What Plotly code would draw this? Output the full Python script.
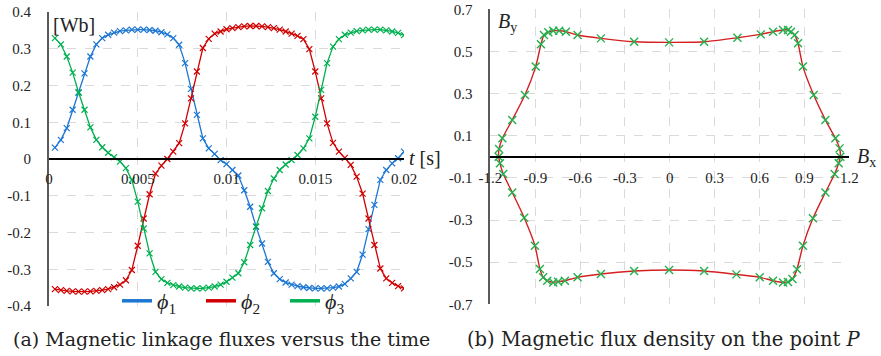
import plotly.graph_objects as go

# ---------------- data: (a) linkage fluxes ----------------
t = [0.000333, 0.000667, 0.001, 0.001333, 0.001667, 0.002, 0.002333, 0.002667, 0.003, 0.003333,
     0.003667, 0.004, 0.004333, 0.004667, 0.005, 0.005333, 0.005667, 0.006, 0.006333, 0.006667,
     0.007, 0.007333, 0.007667, 0.008, 0.008333, 0.008667, 0.009, 0.009333, 0.009667, 0.01,
     0.010333, 0.010667, 0.011, 0.011333, 0.011667, 0.012, 0.012333, 0.012667, 0.013, 0.013333,
     0.013667, 0.014, 0.014333, 0.014667, 0.015, 0.015333, 0.015667, 0.016, 0.016333, 0.016667,
     0.017, 0.017333, 0.017667, 0.018, 0.018333, 0.018667, 0.019, 0.019333, 0.019667, 0.02]

phi1 = [0.031, 0.052, 0.084, 0.134, 0.181, 0.233, 0.279, 0.312, 0.329, 0.338,
        0.344, 0.348, 0.350, 0.352, 0.352, 0.352, 0.351, 0.349, 0.345, 0.339,
        0.329, 0.311, 0.261, 0.191, 0.120, 0.056, 0.029, 0.014, -0.003, -0.014,
        -0.030, -0.045, -0.085, -0.130, -0.184, -0.230, -0.280, -0.311, -0.327, -0.336,
        -0.342, -0.346, -0.349, -0.351, -0.352, -0.352, -0.352, -0.350, -0.347, -0.340,
        -0.325, -0.307, -0.260, -0.191, -0.125, -0.057, -0.030, -0.012, 0.002, 0.020]

phi2 = [-0.354, -0.357, -0.359, -0.360, -0.361, -0.361, -0.360, -0.359, -0.357, -0.354,
        -0.349, -0.342, -0.330, -0.302, -0.236, -0.162, -0.096, -0.040, -0.018, 0.000,
        0.020, 0.043, 0.097, 0.165, 0.238, 0.302, 0.327, 0.341, 0.347, 0.353,
        0.356, 0.359, 0.361, 0.362, 0.362, 0.361, 0.359, 0.356, 0.352, 0.347,
        0.341, 0.335, 0.326, 0.299, 0.238, 0.165, 0.097, 0.044, 0.020, 0.003,
        -0.016, -0.048, -0.094, -0.162, -0.234, -0.298, -0.325, -0.337, -0.346, -0.352]

phi3 = [0.329, 0.312, 0.279, 0.235, 0.181, 0.134, 0.086, 0.052, 0.032, 0.017,
        0.005, -0.007, -0.025, -0.057, -0.116, -0.189, -0.257, -0.307, -0.327, -0.337,
        -0.343, -0.347, -0.350, -0.352, -0.352, -0.352, -0.350, -0.347, -0.342, -0.334,
        -0.323, -0.311, -0.281, -0.234, -0.184, -0.134, -0.087, -0.053, -0.030, -0.015,
        -0.003, 0.011, 0.029, 0.056, 0.115, 0.188, 0.261, 0.306, 0.326, 0.338,
        0.344, 0.348, 0.350, 0.352, 0.352, 0.352, 0.350, 0.347, 0.343, 0.337]

series_names = ["<i>ϕ</i><sub>1</sub>", "<i>ϕ</i><sub>2</sub>", "<i>ϕ</i><sub>3</sub>"]

# ---------------- data: (b) flux density locus ----------------
Bx = [1.140, 1.135, 1.107, 1.040, 0.962, 0.890, 0.857, 0.835, 0.810, 0.790,
      0.757, 0.690, 0.608, 0.452, 0.229, -0.005, -0.239, -0.461, -0.617, -0.695,
      -0.740, -0.780, -0.813, -0.842, -0.862, -0.897, -0.969, -1.054, -1.120, -1.142,
      -1.145, -1.136, -1.114, -1.054, -0.974, -0.902, -0.869, -0.847, -0.820, -0.780,
      -0.747, -0.702, -0.617, -0.461, -0.239, -0.005, 0.229, 0.445, 0.601, 0.690,
      0.757, 0.790, 0.820, 0.850, 0.890, 0.957, 1.040, 1.102, 1.129]
By = [0.000, 0.040, 0.088, 0.175, 0.293, 0.428, 0.539, 0.578, 0.594, 0.602,
      0.602, 0.594, 0.581, 0.565, 0.546, 0.543, 0.546, 0.562, 0.578, 0.594,
      0.598, 0.598, 0.591, 0.578, 0.534, 0.428, 0.293, 0.175, 0.088, 0.037,
      0.000, -0.031, -0.082, -0.169, -0.289, -0.422, -0.532, -0.572, -0.588, -0.596,
      -0.593, -0.588, -0.572, -0.556, -0.542, -0.537, -0.542, -0.558, -0.572, -0.588,
      -0.596, -0.594, -0.580, -0.534, -0.422, -0.292, -0.169, -0.082, -0.031]

# ---------------- tick labels ----------------
a_xticks = [0, 0.005, 0.01, 0.015, 0.02]
a_xtext = ["0", "0.005", "0.01", "0.015", "0.02"]
a_yticks = [0.4, 0.3, 0.2, 0.1, 0, -0.1, -0.2, -0.3, -0.4]
a_ytext = ["0.4", "0.3", "0.2", "0.1", "0", "-0.1", "-0.2", "-0.3", "-0.4"]
b_xticks = [-1.2, -0.9, -0.6, -0.3, 0, 0.3, 0.6, 0.9, 1.2]
b_xtext = ["-1.2", "-0.9", "-0.6", "-0.3", "0", "0.3", "0.6", "0.9", "1.2"]
b_yticks = [0.7, 0.5, 0.3, 0.1, -0.1, -0.3, -0.5, -0.7]
b_ytext = ["0.7", "0.5", "0.3", "0.1", "-0.1", "-0.3", "-0.5", "-0.7"]

captions = ["(a) Magnetic linkage fluxes versus the time",
            "(b) Magnetic flux density on the point <i>P</i>"]

# ---------------- styling ----------------
W, H = 881, 356
SERIF = "Times New Roman, Liberation Serif, Times, serif"
colors = ["#1C76D2", "#D00000", "#00B050"]
GRID = "#DADADA"
TXT = "#222222"


def px(x):
    return x / W


def py(y):
    return 1 - y / H


fig = go.Figure()

for vals, col in zip([phi1, phi2, phi3], colors):
    fig.add_trace(go.Scatter(
        x=t, y=vals, mode="lines+markers", xaxis="x", yaxis="y",
        line=dict(color=col, width=1.3),
        marker=dict(symbol="x-thin", size=6, line=dict(color=col, width=1.2)),
        showlegend=False, hoverinfo="skip"))

for name, col in zip(series_names, colors):
    fig.add_trace(go.Scatter(
        x=[None], y=[None], mode="lines", xaxis="x", yaxis="y",
        line=dict(color=col, width=3.5), name=name, showlegend=True))

fig.add_trace(go.Scatter(
    x=Bx + Bx[:1], y=By + By[:1], mode="lines", xaxis="x2", yaxis="y2",
    line=dict(color="#D42020", width=1.4, shape="spline", smoothing=0.6),
    showlegend=False, hoverinfo="skip"))
fig.add_trace(go.Scatter(
    x=Bx, y=By, mode="markers", xaxis="x2", yaxis="y2",
    marker=dict(symbol="x-thin", size=8, line=dict(color="#22B04C", width=1.4)),
    showlegend=False, hoverinfo="skip"))

tickfont = dict(family=SERIF, size=15, color=TXT)
common_grid = dict(showgrid=True, gridcolor=GRID, griddash="dash", gridwidth=1,
                   zeroline=False, ticks="", tickfont=tickfont, automargin=False)

fig.update_layout(
    template="none",
    width=W, height=H, margin=dict(l=0, r=0, t=0, b=0, autoexpand=False),
    paper_bgcolor="white", plot_bgcolor="white",
    font=dict(family=SERIF, color=TXT),
    xaxis=dict(domain=[px(49), px(404)], range=[0, 0.02], anchor="free",
               position=py(159), showline=True, linecolor="black", linewidth=1.5,
               tickvals=a_xticks, ticktext=a_xtext, ticklabelstandoff=6, **common_grid),
    yaxis=dict(domain=[py(306), py(12)], range=[-0.4, 0.4], anchor="x",
               showline=True, linecolor="#5A5A5A", linewidth=2,
               tickvals=a_yticks, ticktext=a_ytext, ticklabelstandoff=13, **common_grid),
    xaxis2=dict(domain=[px(490.4), px(849.3)], range=[-1.2, 1.2], anchor="free",
                position=py(156.8), showline=True, linecolor="black", linewidth=1.5,
                tickvals=b_xticks, ticktext=b_xtext, ticklabelstandoff=7, **common_grid),
    yaxis2=dict(domain=[py(304.3), py(9.3)], range=[-0.7, 0.7], anchor="x2",
                showline=True, linecolor="#5A5A5A", linewidth=2,
                tickvals=b_yticks, ticktext=b_ytext, ticklabelstandoff=13, **common_grid),
    legend=dict(orientation="h", x=px(117), xanchor="left", y=py(301), yanchor="middle",
                bgcolor="rgba(0,0,0,0)", font=dict(family=SERIF, size=22, color=TXT),
                entrywidth=39, entrywidthmode="pixels", tracegroupgap=0),
)

ann = [
    dict(text="[Wb]", x=px(51), y=py(25), xanchor="left", yanchor="middle",
         font=dict(family=SERIF, size=20, color=TXT)),
    dict(text="<i>t</i> [s]", x=px(407), y=py(158), xanchor="left", yanchor="middle",
         font=dict(family=SERIF, size=20, color=TXT)),
    dict(text="<i>B</i><sub>y</sub>", x=px(496), y=py(22), xanchor="left", yanchor="middle",
         font=dict(family=SERIF, size=20, color=TXT)),
    dict(text="<i>B</i><sub>x</sub>", x=px(855), y=py(157), xanchor="left", yanchor="middle",
         font=dict(family=SERIF, size=20, color=TXT)),
    dict(text=captions[0], x=px(221), y=py(339), xanchor="center", yanchor="middle",
         font=dict(family="DejaVu Serif", size=19, color=TXT)),
    dict(text=captions[1], x=px(664), y=py(339), xanchor="center", yanchor="middle",
         font=dict(family="DejaVu Serif", size=19.5, color=TXT)),
]
for a in ann:
    a.update(xref="paper", yref="paper", showarrow=False)
fig.update_layout(annotations=ann)

fig.write_html("out.html", config={"displayModeBar": False},
               post_script="document.body.style.margin='0px';")
